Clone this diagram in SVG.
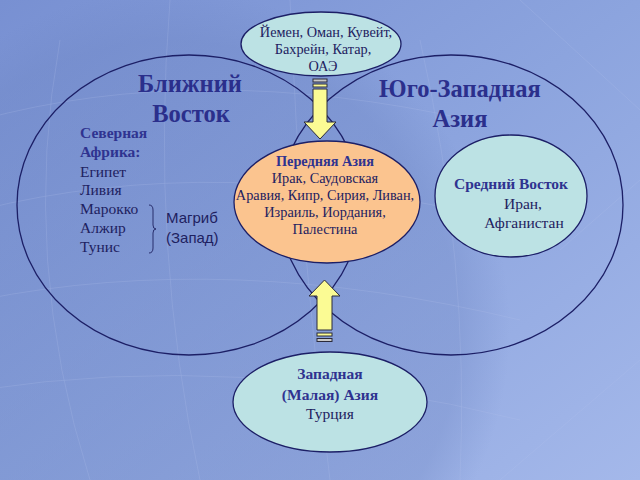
<svg xmlns="http://www.w3.org/2000/svg" width="640" height="480" viewBox="0 0 640 480">
<defs>
<linearGradient id="bg" x1="0" y1="0" x2="1" y2="1">
<stop offset="0" stop-color="#7890d2"/>
<stop offset="0.5" stop-color="#8ca4de"/>
<stop offset="1" stop-color="#a4b8ea"/>
</linearGradient>
<radialGradient id="globe" cx="0.5" cy="0.5" r="0.5">
<stop offset="0" stop-color="#6f86c4" stop-opacity="0.35"/>
<stop offset="0.85" stop-color="#6a82c0" stop-opacity="0.3"/>
<stop offset="1" stop-color="#6a82c0" stop-opacity="0"/>
</radialGradient>
<style>
.big{fill:none;stroke:#1c1f66;stroke-width:1.3}
.node{stroke:#1c1f66;stroke-width:1.3}
.cyan{fill:#bce2e4}
.orange{fill:#fbc48f}
.t{font-family:"Liberation Serif","Times New Roman",serif;fill:#1e2160}
.h{font-family:"Liberation Serif","Times New Roman",serif;font-weight:bold;fill:#2f3390}
.title{font-family:"Liberation Serif","Times New Roman",serif;font-weight:bold;font-size:24.5px;fill:#2b2f8c;text-anchor:middle}
.s{font-family:"Liberation Sans",Arial,sans-serif;fill:#1e2160;font-size:15px}
.arrow{fill:#fbfb94;stroke:#2a2a3a;stroke-width:1}
.grid{fill:none;stroke:#b8c6ee;stroke-width:0.6;opacity:0.35}
</style>
</defs>
<rect width="640" height="480" fill="url(#bg)"/>
<circle cx="170" cy="330" r="340" fill="url(#globe)"/>
<g class="grid">
<path d="M-20,120 Q200,60 470,120"/>
<path d="M-20,210 Q220,150 500,220"/>
<path d="M-20,300 Q230,250 520,320"/>
<path d="M-20,390 Q240,350 520,420"/>
<path d="M60,40 Q20,260 90,480"/>
<path d="M170,0 Q150,250 200,480"/>
<path d="M290,0 Q300,250 330,480"/>
<path d="M420,40 Q470,260 460,480"/>
<path d="M520,0 L640,110"/>
<path d="M560,250 L640,180"/>
<path d="M500,480 L640,360"/>
</g>

<g id="near-east">
<ellipse class="big" cx="189" cy="205" rx="172" ry="150"/>
<text class="title" x="190" y="92">Ближний</text>
<text class="title" x="191" y="122">Восток</text>
<text class="h" font-size="15.5" x="80" y="138">Северная</text>
<text class="h" font-size="15.5" x="80" y="157">Африка:</text>
<text class="t" font-size="15.5" x="80" y="177">Египет</text>
<text class="t" font-size="15.5" x="80" y="195">Ливия</text>
<text class="t" font-size="15.5" x="80" y="214">Марокко</text>
<text class="t" font-size="15.5" x="80" y="233">Алжир</text>
<text class="t" font-size="15.5" x="80" y="252">Тунис</text>
<path d="M149,205 Q153,205 153,210 V225 Q153,229 156,229 Q153,229 153,233 V248 Q153,253 149,253" fill="none" stroke="#1e2160" stroke-width="0.9"/>
<text class="s" x="166" y="223">Магриб</text>
<text class="s" x="166" y="243">(Запад)</text>
</g>

<g id="sw-asia">
<ellipse class="big" cx="451" cy="205" rx="172" ry="150"/>
<text class="title" x="460" y="97">Юго-Западная</text>
<text class="title" x="460" y="127">Азия</text>
</g>

<g id="gulf">
<ellipse class="node cyan" cx="321" cy="44" rx="80" ry="32"/>
<text class="t" font-size="14.3" text-anchor="middle" x="326" y="37">Йемен, Оман, Кувейт,</text>
<text class="t" font-size="14.3" text-anchor="middle" x="323" y="54">Бахрейн, Катар,</text>
<text class="t" font-size="14.3" text-anchor="middle" x="323" y="71">ОАЭ</text>
</g>

<g id="middle-east">
<ellipse class="node cyan" cx="511" cy="196" rx="76" ry="61"/>
<text class="h" font-size="15.5" text-anchor="middle" x="511" y="189">Средний Восток</text>
<text class="t" font-size="15.5" text-anchor="middle" x="523" y="209">Иран,</text>
<text class="t" font-size="15.5" text-anchor="middle" x="524" y="228">Афганистан</text>
</g>

<g id="connectors">
<rect class="arrow" x="313" y="79" width="14" height="3" style="fill:#c8c8c8"/>
<rect class="arrow" x="313" y="84" width="14" height="3"/>
<path class="arrow" d="M313,89 H327 V122 H336 L320,139 L304,122 H313 Z"/>
<path class="arrow" d="M317,330 H332 V296 H340 L324.5,280 L309,296 H317 Z"/>
<rect class="arrow" x="317" y="333" width="15" height="3"/>
<rect class="arrow" x="317" y="338.5" width="15" height="3" style="fill:#c8c8c8"/>
</g>

<g id="front-asia">
<ellipse class="node orange" cx="327" cy="202" rx="93" ry="61"/>
<text class="h" font-size="14.3" text-anchor="middle" x="325" y="166">Передняя Азия</text>
<text class="t" font-size="14.3" text-anchor="middle" x="325" y="183">Ирак, Саудовская</text>
<text class="t" font-size="14.3" text-anchor="middle" x="325" y="200">Аравия, Кипр, Сирия, Ливан,</text>
<text class="t" font-size="14.3" text-anchor="middle" x="325" y="217">Израиль, Иордания,</text>
<text class="t" font-size="14.3" text-anchor="middle" x="325" y="234">Палестина</text>
</g>

<g id="asia-minor">
<ellipse class="node cyan" cx="330" cy="402" rx="97" ry="50"/>
<text class="h" font-size="15.5" text-anchor="middle" x="330" y="379">Западная</text>
<text class="h" font-size="15.5" text-anchor="middle" x="330" y="400">(Малая) Азия</text>
<text class="t" font-size="15.5" text-anchor="middle" x="330" y="419">Турция</text>
</g>
</svg>
